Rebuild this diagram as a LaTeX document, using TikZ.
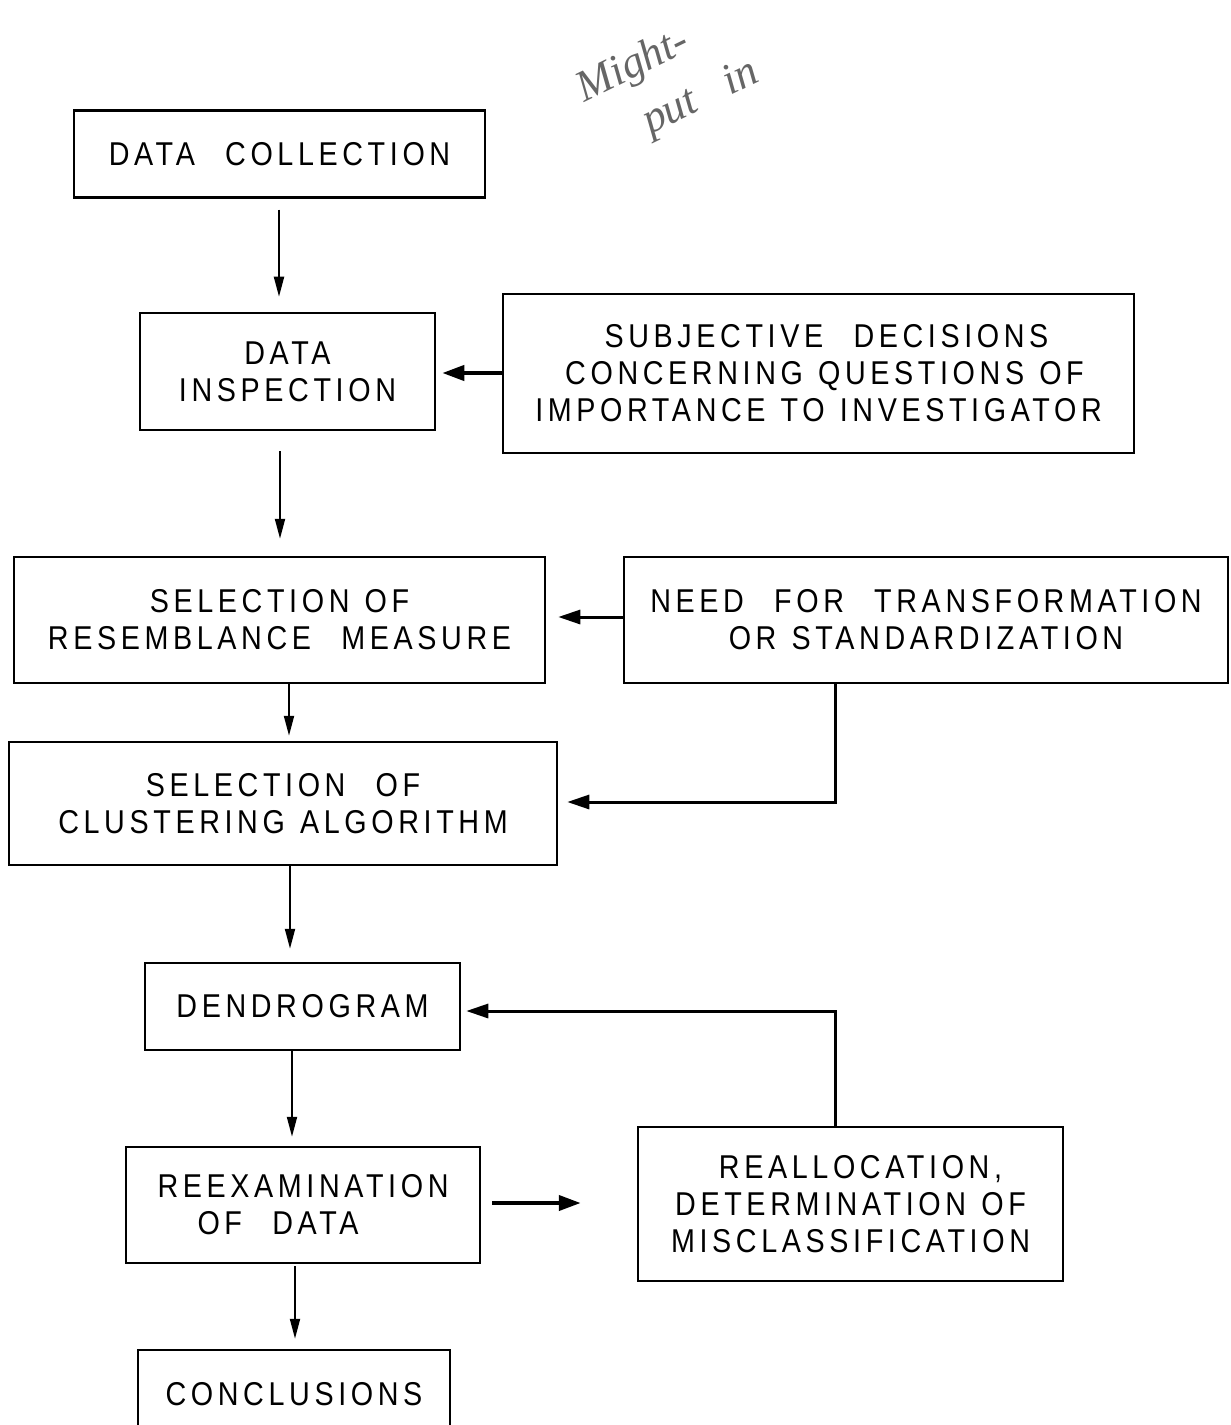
\documentclass[tikz,border=0pt]{standalone}
\usepackage{fontspec}
\setmainfont{Liberation Sans}[LetterSpace=14,FakeStretch=0.87,WordSpace=1.2]
\newfontfamily\hand{Liberation Serif}
\usetikzlibrary{arrows.meta}
\begin{document}
\begin{tikzpicture}[x=1bp,y=-1bp,
  box/.style={draw, line width=2.5bp, inner sep=0pt, align=center,
    font=\fontsize{33bp}{37bp}\selectfont},
  flow/.style={line width=2bp, -{Triangle[length=20bp,width=10bp]}},
  boldflow/.style={line width=4bp, -{Triangle[length=22bp,width=15bp]}},
  midflow/.style={line width=3bp, -{Triangle[length=22bp,width=14bp]}},
  handw/.style={text=black!60, inner sep=0pt, align=left,
    font=\hand\itshape\fontsize{44bp}{58bp}\selectfont}]
\clip (0,0) rectangle (1230,1425);
\fill[white] (0,0) rectangle (1230,1425);

\node[box, minimum width=411bp, minimum height=87bp] (dc) at (279.5,154) {DATA\ \ COLLECTION};
\node[box, minimum width=295bp, minimum height=117bp] (di) at (287.5,371.5) {DATA\\INSPECTION};
\node[box, minimum width=631bp, minimum height=159bp] (subj) at (818.5,373.5)
  {\hspace*{16bp}SUBJECTIVE\ \ DECISIONS\\\hspace*{12bp}CONCERNING QUESTIONS OF\\IMPORTANCE TO INVESTIGATOR};
\node[box, minimum width=531bp, minimum height=126bp] (sr) at (279.5,620) {SELECTION OF\\RESEMBLANCE\ \ MEASURE};
\node[box, minimum width=604bp, minimum height=126bp] (need) at (926,620) {NEED\ \ FOR\ \ TRANSFORMATION\\OR STANDARDIZATION};
\node[box, minimum width=548bp, minimum height=123bp] (sc) at (283,803.5) {SELECTION\ \ OF\\CLUSTERING ALGORITHM};
\node[box, minimum width=315bp, minimum height=87bp] (dend) at (302.5,1006.5) {DENDROGRAM};
\node[box, minimum width=354bp, minimum height=116bp] (reex) at (303,1205) {REEXAMINATION\\OF\ \ DATA\hspace*{50bp}};
\node[box, minimum width=425bp, minimum height=154bp] (real) at (850.5,1204) {\hspace*{20bp}REALLOCATION,\\DETERMINATION OF\\MISCLASSIFICATION};
\node[box, minimum width=312bp, minimum height=88bp] (conc) at (294,1394) {CONCLUSIONS};

\node[handw, rotate=26] (hw) at (668,82) {Might-\\\hspace*{45bp}put\ \ \ in};

\draw[flow, shorten <=11bp, shorten >=15bp] (279,0 |- dc.south) -- (279,0 |- di.north);
\draw[flow, shorten <=20bp, shorten >=17bp] (280,0 |- di.south) -- (280,0 |- sr.north);
\draw[boldflow, shorten >=6bp] (subj.west |- 0,373) -- (di.east |- 0,373);
\draw[midflow, shorten >=12bp] (need.west |- 0,617) -- (sr.east |- 0,617);
\draw[flow, shorten >=5bp] (289,0 |- sr.south) -- (289,0 |- sc.north);
\coordinate (k1) at (835,802);
\draw[midflow, shorten >=9bp] (k1 |- need.south) |- (sc.east |- k1);
\draw[flow, shorten >=13bp] (290,0 |- sc.south) -- (290,0 |- dend.north);
\coordinate (k2) at (835,1011);
\draw[midflow, shorten >=5bp] (k2 |- real.north) |- (dend.east |- k2);
\draw[flow, shorten >=9bp] (292,0 |- dend.south) -- (292,0 |- reex.north);
\draw[boldflow, shorten <=11bp, shorten >=56bp] (reex.east |- 0,1203) -- (real.west |- 0,1203);
\draw[flow, shorten <=2bp, shorten >=10bp] (295,0 |- reex.south) -- (295,0 |- conc.north);
\end{tikzpicture}
\end{document}
